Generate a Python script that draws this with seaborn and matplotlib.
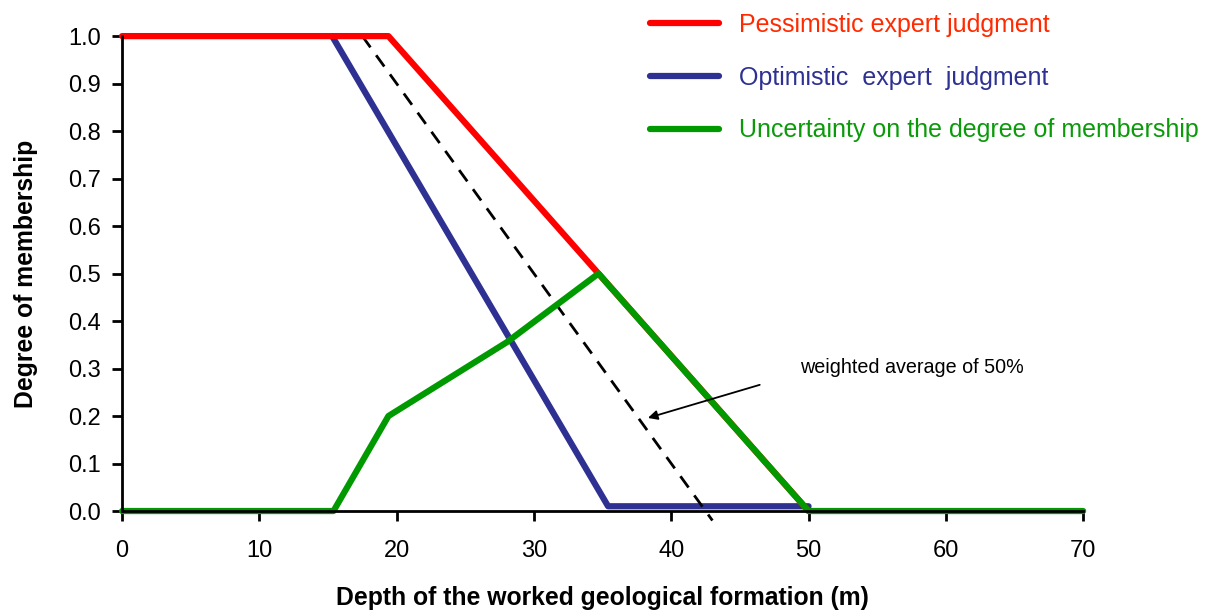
import pandas as pd
import matplotlib.pyplot as plt
import seaborn as sns
from matplotlib.lines import Line2D

# depth (m) and degree of membership
pess_x = [0, 19.4, 50.0]
pess_y = [1.0, 1.0, 0.0]

opt_x = [15.3, 35.4, 50.0]
opt_y = [1.0, 0.01, 0.01]

unc_x = [0, 15.4, 19.4, 28.0, 34.7, 50.0, 70.0]
unc_y = [0.0, 0.0, 0.2, 0.355, 0.5, 0.0, 0.0]

avg_x = [17.5, 43.0]
avg_y = [1.0, -0.02]

labels = ["Pessimistic expert judgment", "Optimistic  expert  judgment",
          "Uncertainty on the degree of membership"]
line_colors = ["#ff0000", "#2e3192", "#009a00"]
text_colors = ["#ff2a00", "#2e3192", "#0a9a0a"]

sns.set_style("ticks")
plt.rcParams['font.family'] = ['Liberation Sans', 'DejaVu Sans']
plt.rcParams['text.color'] = 'black'
plt.rcParams['axes.labelcolor'] = 'black'
plt.rcParams['xtick.color'] = 'black'
plt.rcParams['ytick.color'] = 'black'

fig = plt.figure(figsize=(12.17, 6.12), dpi=100)
ax = fig.add_axes([0.1003, 0.165, 0.7897, 0.776])

pess = pd.DataFrame({"x": pess_x, "y": pess_y})
opt = pd.DataFrame({"x": opt_x, "y": opt_y})
unc = pd.DataFrame({"x": unc_x, "y": unc_y})
avg = pd.DataFrame({"x": avg_x, "y": avg_y})

sns.lineplot(data=opt, x="x", y="y", ax=ax, color=line_colors[1], lw=4.5,
             estimator=None, sort=False, clip_on=False)
sns.lineplot(data=avg, x="x", y="y", ax=ax, color="black", lw=2,
             linestyle=(0, (5, 3.5)), estimator=None, sort=False, clip_on=False)
sns.lineplot(data=pess, x="x", y="y", ax=ax, color=line_colors[0], lw=4.5,
             estimator=None, sort=False, clip_on=False)
sns.lineplot(data=unc, x="x", y="y", ax=ax, color=line_colors[2], lw=4.5,
             estimator=None, sort=False, clip_on=False)

ax.set_xlim(0, 70)
ax.set_ylim(0, 1.0)
ax.set_xticks(range(0, 71, 10))
ax.set_yticks([i / 10 for i in range(11)])
ax.set_yticklabels([f"{i / 10:.1f}" for i in range(11)])
ax.tick_params(axis="both", direction="out", length=7, width=2, labelsize=17)
ax.tick_params(axis="x", pad=14)
ax.tick_params(axis="y", pad=8)
for s in ["left", "bottom"]:
    ax.spines[s].set_linewidth(2)
    ax.spines[s].set_color("black")
sns.despine(ax=ax)

ax.set_xlabel("Depth of the worked geological formation (m)", fontsize=17.8,
              fontweight="bold", labelpad=17)
ax.set_ylabel("Degree of membership", fontsize=17.8, fontweight="bold",
              labelpad=22)

ax.annotate("weighted average of 50%", xy=(38.3, 0.196), xytext=(49.4, 0.303),
            fontsize=14.2, va="center", ha="left",
            arrowprops=dict(arrowstyle="-|>", color="black", lw=1.3,
                            shrinkA=28, shrinkB=0, mutation_scale=14,
                            relpos=(0, 0.2)))

handles = [Line2D([], [], color=c, lw=4.5) for c in line_colors]
leg = fig.legend(handles, labels, loc="upper left",
                 bbox_to_anchor=(650 / 1217, 1 - 13 / 612), frameon=False,
                 fontsize=18, handlelength=2.75, handletextpad=0.8,
                 labelspacing=1.15, borderpad=0, borderaxespad=0)
for t, c in zip(leg.get_texts(), text_colors):
    t.set_color(c)

fig.savefig("out.png", dpi=100)
